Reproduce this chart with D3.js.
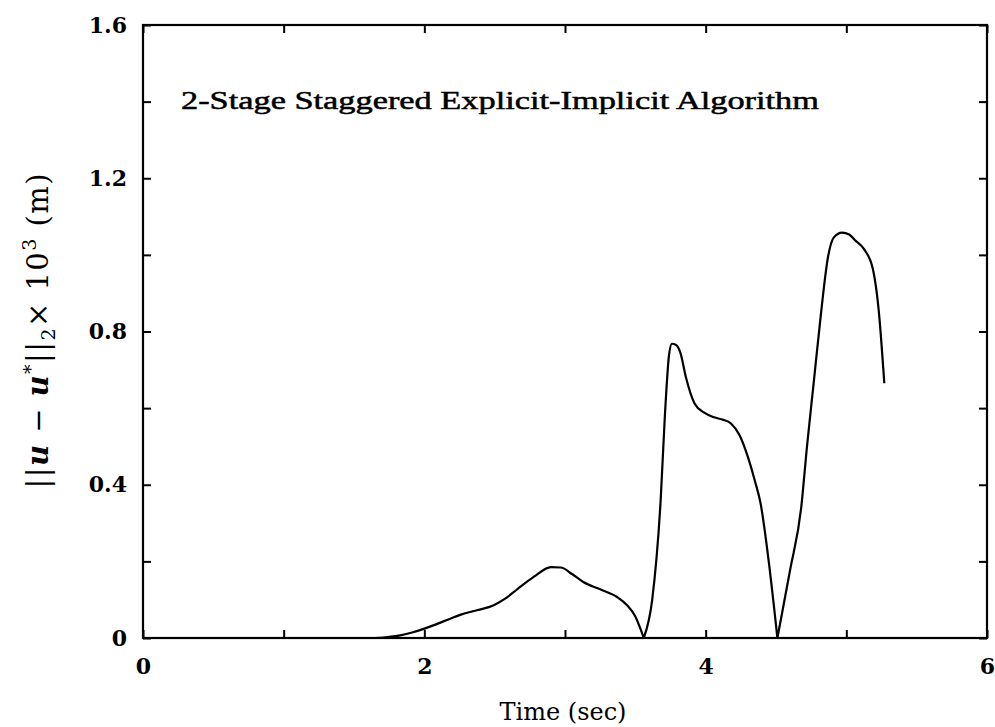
<!DOCTYPE html>
<html>
<head>
<meta charset="utf-8">
<script src="https://cdn.jsdelivr.net/npm/d3@7"></script>
<style>
  html, body { margin: 0; padding: 0; background: #fff; }
  svg text { font-family: "DejaVu Serif", "Liberation Serif", serif; fill: #000; }
</style>
</head>
<body>
<svg id="chart" width="995" height="727"></svg>
<script>
// Displacement error norm vs. time
const timeSec = [0, 0.5, 1.0, 1.5, 1.65, 1.75, 1.83, 1.92, 2.02, 2.14, 2.26, 2.38, 2.49, 2.58, 2.66, 2.78, 2.90, 2.97, 3.05, 3.13, 3.25, 3.37, 3.44, 3.50, 3.56,
  3.62, 3.68, 3.71, 3.74, 3.76, 3.79, 3.82, 3.86, 3.92, 3.99, 4.06, 4.12, 4.18, 4.24, 4.30, 4.35, 4.39, 4.45, 4.51,
  4.60, 4.68, 4.72, 4.77, 4.82, 4.87, 4.91, 4.97, 5.02, 5.06, 5.13, 5.19, 5.23, 5.27];
const errorNorm = [0, 0, 0, 0, 0, 0.003, 0.007, 0.015, 0.027, 0.044, 0.061, 0.073, 0.085, 0.104, 0.127, 0.160, 0.185, 0.184, 0.167, 0.146, 0.127, 0.107, 0.086, 0.056, 0,
  0.10, 0.36, 0.58, 0.74, 0.768, 0.765, 0.745, 0.68, 0.613, 0.588, 0.576, 0.570, 0.560, 0.530, 0.473, 0.410, 0.352, 0.195, 0,
  0.177, 0.343, 0.499, 0.673, 0.848, 0.995, 1.045, 1.058, 1.053, 1.039, 1.013, 0.961, 0.856, 0.665];

const xTicks = [0, 1, 2, 3, 4, 5, 6];
const xTickLabels = ["0", "", "2", "", "4", "", "6"];
const yTicks = [0, 0.2, 0.4, 0.6, 0.8, 1.0, 1.2, 1.4, 1.6];
const yTickLabels = ["0", "", "0.4", "", "0.8", "", "1.2", "", "1.6"];

const titleText = "2-Stage Staggered Explicit-Implicit Algorithm";
const xTitle = "Time (sec)";

const svg = d3.select("#chart");
const plotLeft = 143, plotRight = 987, plotTop = 25, plotBottom = 638;

const x = d3.scaleLinear().domain([0, 6]).range([plotLeft, plotRight]);
const y = d3.scaleLinear().domain([0, 1.6]).range([plotBottom, plotTop]);

const tickLen = 8;

// frame
svg.append("rect")
  .attr("x", plotLeft).attr("y", plotTop)
  .attr("width", plotRight - plotLeft).attr("height", plotBottom - plotTop)
  .attr("fill", "none").attr("stroke", "#000").attr("stroke-width", 2.2);

function styleAxis(g) {
  g.select(".domain").remove();
  g.selectAll(".tick line").attr("stroke", "#000").attr("stroke-width", 2);
}

const tickFont = g => g.selectAll("text")
  .attr("font-size", 22).attr("font-weight", "bold")
  .style("font-family", "DejaVu Serif, serif");

// bottom axis with labels
svg.append("g")
  .attr("transform", `translate(0,${plotBottom})`)
  .call(d3.axisBottom(x).tickValues(xTicks).tickSize(-tickLen).tickPadding(20)
    .tickFormat((d, i) => xTickLabels[i]))
  .call(styleAxis)
  .call(tickFont);

// top axis, ticks only
svg.append("g")
  .attr("transform", `translate(0,${plotTop})`)
  .call(d3.axisTop(x).tickValues(xTicks).tickSize(-tickLen).tickFormat(""))
  .call(styleAxis);

// left axis with labels
svg.append("g")
  .attr("transform", `translate(${plotLeft},0)`)
  .call(d3.axisLeft(y).tickValues(yTicks).tickSize(-tickLen).tickPadding(16)
    .tickFormat((d, i) => yTickLabels[i]))
  .call(styleAxis)
  .call(tickFont);

// right axis, ticks only
svg.append("g")
  .attr("transform", `translate(${plotRight},0)`)
  .call(d3.axisRight(y).tickValues(yTicks).tickSize(-tickLen).tickFormat(""))
  .call(styleAxis);

// error curve: smooth between the zero crossings, sharp corners at the zeros
const pts = timeSec.map((t, i) => [t, errorNorm[i]]);
const cuts = [0];
for (let i = 1; i < pts.length - 1; i++) {
  if (pts[i][1] === 0 && pts[i - 1][1] > 0 && pts[i + 1][1] > 0) cuts.push(i);
}
cuts.push(pts.length - 1);
const segments = d3.pairs(cuts).map(([a, b]) => pts.slice(a, b + 1));

const line = d3.line().x(d => x(d[0])).y(d => y(d[1])).curve(d3.curveMonotoneX);
const pathD = segments.map(s => line(s)).join("");
svg.append("path")
  .attr("fill", "none")
  .attr("stroke", "#000")
  .attr("stroke-width", 2.2)
  .attr("stroke-linejoin", "round")
  .attr("d", pathD);

// annotation inside the plot
svg.append("text")
  .attr("x", 181).attr("y", 109)
  .attr("font-size", 25)
  .style("font-family", "Liberation Serif, serif")
  .attr("stroke", "#000").attr("stroke-width", 0.5)
  .attr("textLength", 638).attr("lengthAdjust", "spacingAndGlyphs")
  .text(titleText);

// x axis title
svg.append("text")
  .attr("x", 563).attr("y", 720)
  .attr("text-anchor", "middle")
  .attr("font-size", 24)
  .text(xTitle);

// y axis title: ||u − u*||₂ × 10³ (m)
const yt = svg.append("text")
  .attr("transform", "translate(48,331) rotate(-90)")
  .attr("text-anchor", "middle")
  .attr("font-size", 29)
  .attr("textLength", 315).attr("lengthAdjust", "spacing");
yt.append("tspan").text("||");
yt.append("tspan").attr("font-style", "italic").attr("font-weight", "bold").text("u");
yt.append("tspan").text(" − ");
yt.append("tspan").attr("font-style", "italic").attr("font-weight", "bold").text("u");
yt.append("tspan").attr("font-size", 19).attr("dy", -11).text("*");
yt.append("tspan").attr("dy", 11).text("||");
yt.append("tspan").attr("font-size", 19).attr("dy", 7).text("2");
yt.append("tspan").attr("dy", -7).text("× 10");
yt.append("tspan").attr("font-size", 19).attr("dy", -12).text("3");
yt.append("tspan").attr("dy", 12).text(" (m)");
</script>
</body>
</html>
